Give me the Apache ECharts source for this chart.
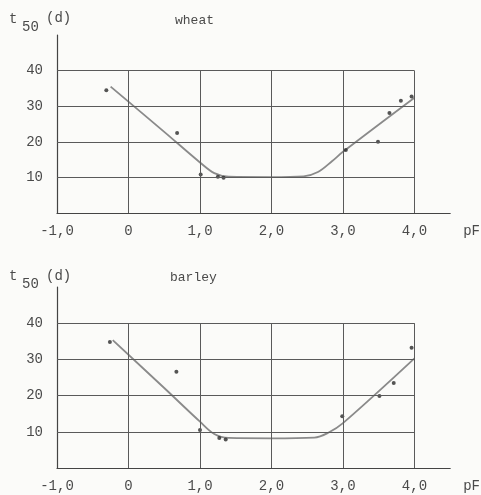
<!DOCTYPE html>
<html><head><meta charset="utf-8">
<script src="https://cdn.jsdelivr.net/npm/echarts@6/dist/echarts.min.js"></script>
<style>html,body{margin:0;padding:0;background:#fbfbf9}#c{width:481px;height:495px}</style>
</head><body><div id="c"></div>
<script>
const xTicks = [-1, 0, 1, 2, 3, 4];
const xTickLabels = ['-1,0', '0', '1,0', '2,0', '3,0', '4,0'];
const yTicks = [10, 20, 30, 40];
const gridTopY = 40;
const gridRightX = 4;

const wheatPtsX = [-0.31, 0.68, 1.01, 1.25, 1.33, 3.04, 3.49, 3.65, 3.81, 3.96];
const wheatPtsY = [34.5, 22.5, 10.8, 10.2, 9.9, 17.7, 20.0, 28.1, 31.5, 32.7];
const wheatFitX = [-0.25, 0.5, 1.0, 1.2, 1.4, 2.0, 2.45, 2.65, 2.85, 3.0, 4.0];
const wheatFitY = [35.5, 22.8, 14.2, 11.2, 10.2, 10.1, 10.3, 11.5, 14.6, 17.2, 32.4];

const barleyPtsX = [-0.26, 0.67, 1.0, 1.27, 1.36, 2.99, 3.51, 3.71, 3.96];
const barleyPtsY = [34.8, 26.6, 10.5, 8.3, 7.9, 14.3, 19.9, 23.5, 33.2];
const barleyFitX = [-0.22, 0.5, 1.0, 1.2, 1.4, 2.0, 2.6, 2.8, 3.0, 4.0];
const barleyFitY = [35.3, 22.1, 12.8, 9.4, 8.3, 8.2, 8.4, 9.8, 12.4, 30.3];

const FONT = '"Liberation Mono", "DejaVu Sans Mono", monospace';
const INK = '#4a4a4a';
const GRIDC = '#5a5a5a';

function pairs(xs, ys) { return xs.map((x, i) => [x, ys[i]]); }

function gridLines() {
  const d = [];
  xTicks.filter(x => x > xTicks[0]).forEach(x => d.push([{ coord: [x, 0] }, { coord: [x, gridTopY] }]));
  yTicks.forEach(y => d.push([{ coord: [xTicks[0], y] }, { coord: [gridRightX, y] }]));
  return d;
}

function xAxisCfg(gi) {
  return {
    type: 'value', gridIndex: gi, min: -1, max: 4.5, interval: 1,
    name: 'pF', nameLocation: 'end', nameGap: 13,
    nameTextStyle: { fontFamily: FONT, fontSize: 14, color: INK, verticalAlign: 'top', align: 'left', padding: [11, 0, 0, 0] },
    axisLine: { onZero: false, lineStyle: { color: '#444', width: 1.2 } },
    axisTick: { show: false },
    splitLine: { show: false },
    axisLabel: {
      customValues: xTicks, margin: 11, fontFamily: FONT, fontSize: 14, color: INK,
      formatter: v => { const i = xTicks.indexOf(Math.round(v * 10) / 10); return i >= 0 ? xTickLabels[i] : ''; }
    }
  };
}
function yAxisCfg(gi) {
  return {
    type: 'value', gridIndex: gi, min: 0, max: 50, interval: 10,
    axisLine: { show: true, onZero: false, lineStyle: { color: '#444', width: 1.2 } },
    axisTick: { show: false },
    splitLine: { show: false },
    axisLabel: {
      customValues: yTicks, margin: 14, fontFamily: FONT, fontSize: 14, color: INK
    }
  };
}

function seriesFor(gi, fx, fy, px, py) {
  return [
    {
      type: 'line', xAxisIndex: gi, yAxisIndex: gi, data: pairs(fx, fy),
      smooth: 0.35, showSymbol: false, lineStyle: { color: '#8a8a8a', width: 1.8 },
      z: 3, silent: true,
      markLine: {
        silent: true, symbol: 'none', label: { show: false }, animation: false,
        lineStyle: { type: 'solid', color: GRIDC, width: 1 },
        data: gridLines()
      }
    },
    {
      type: 'scatter', xAxisIndex: gi, yAxisIndex: gi, data: pairs(px, py),
      symbolSize: 4, itemStyle: { color: '#2a2a2a' }, z: 4
    }
  ];
}

function txt(left, top, text, size) {
  return { type: 'text', left: left, top: top, style: { text: text, font: size + 'px ' + FONT, fill: INK } };
}

const chart = echarts.init(document.getElementById('c'), null, { renderer: 'canvas' });
chart.setOption({
  backgroundColor: '#fbfbf9',
  animation: false,
  grid: [
    { left: 57, top: 35, width: 395, height: 178 },
    { left: 57, top: 287, width: 395, height: 181 }
  ],
  xAxis: [xAxisCfg(0), xAxisCfg(1)],
  yAxis: [yAxisCfg(0), yAxisCfg(1)],
  series: [].concat(
    seriesFor(0, wheatFitX, wheatFitY, wheatPtsX, wheatPtsY),
    seriesFor(1, barleyFitX, barleyFitY, barleyPtsX, barleyPtsY)
  ),
  graphic: [
    txt(9, 12, 't', 14), txt(22, 20, '50', 14), txt(46, 11, '(d)', 14), txt(175, 14, 'wheat', 13),
    txt(9, 269, 't', 14), txt(22, 277, '50', 14), txt(46, 269, '(d)', 14), txt(170, 271, 'barley', 13)
  ]
});
</script></body></html>
